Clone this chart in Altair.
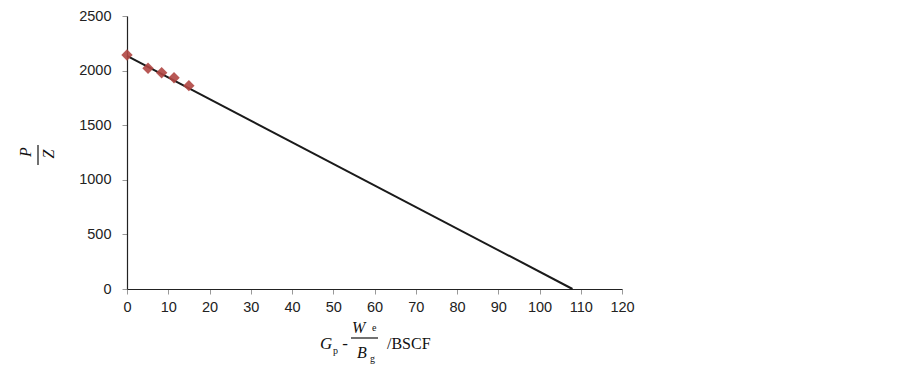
import altair as alt
import pandas as pd

# Data points (x = Gp - We/Bg in BSCF, y = P/Z)
pts_x = [0.0, 5.1, 8.4, 11.4, 15.0]
pts_y = [2143, 2021, 1981, 1935, 1862]

# Fitted straight line endpoints
line_x = [0.0, 108.0]
line_y = [2135, 0]

x_ticks = [0, 10, 20, 30, 40, 50, 60, 70, 80, 90, 100, 110, 120]
y_ticks = [0, 500, 1000, 1500, 2000, 2500]

# Axis-title pieces
xt_text = ["G", "p", "-", "W", "e", "B", "g", "/BSCF"]
yt_text = ["P", "Z"]

W, H = 495, 273

pts = pd.DataFrame({"x": pts_x, "y": pts_y})
ln = pd.DataFrame({"x": line_x, "y": line_y})

xs = alt.Scale(domain=[0, 120], nice=False)
ys = alt.Scale(domain=[0, 2500], nice=False)

xaxis = alt.Axis(values=x_ticks, title=None, format="d", labelFontSize=14.5, labelFont="Liberation Sans",
                 labelColor="#222", tickColor="#999", tickSize=5, domainColor="#222",
                 domainWidth=1.2, labelPadding=6, grid=False, labelFlush=False)
yaxis = alt.Axis(values=y_ticks, title=None, format="d", labelFontSize=14.5, labelFont="Liberation Sans",
                 labelColor="#222", tickColor="#999", tickSize=5, domainColor="#222",
                 domainWidth=1.2, labelPadding=11, grid=False, labelFlush=False)

line = alt.Chart(ln).mark_line(color="#1a1a1a", strokeWidth=2).encode(
    x=alt.X("x:Q", scale=xs, axis=xaxis),
    y=alt.Y("y:Q", scale=ys, axis=yaxis),
)

points = alt.Chart(pts).mark_point(shape="diamond", filled=True, size=130,
                                   color="#b04643", opacity=0.9).encode(
    x=alt.X("x:Q", scale=xs),
    y=alt.Y("y:Q", scale=ys),
)


def txt(t, x, y, size, style="normal", angle=0, align="left", baseline="alphabetic"):
    return alt.Chart(alt.Data(values=[{"t": t}])).mark_text(
        font="Liberation Serif", fontSize=size, fontStyle=style, angle=angle,
        align=align, baseline=baseline, color="#111"
    ).encode(text="t:N", x=alt.value(x), y=alt.value(y))


def rule(x1, x2, y1, y2):
    return alt.Chart(alt.Data(values=[{"a": 1}])).mark_rule(color="#111", strokeWidth=1.2).encode(
        x=alt.value(x1), x2=alt.value(x2), y=alt.value(y1), y2=alt.value(y2))


title_layers = [
    txt(xt_text[0], 193, 333, 17, "italic"),
    txt(xt_text[1], 206, 338, 10),
    txt(xt_text[2], 218, 333, 17, align="center"),
    txt(xt_text[3], 225, 317, 16, "italic"),
    txt(xt_text[4], 245, 315, 10),
    rule(224, 251, 322, 322),
    txt(xt_text[5], 230, 342, 16, "italic"),
    txt(xt_text[6], 243, 346, 10),
    txt(xt_text[7], 260, 333, 16),
    txt(yt_text[0], -101, 136, 16, "italic", angle=270, align="center", baseline="middle"),
    rule(-89, -89, 129, 149),
    txt(yt_text[1], -78, 138, 16, "italic", angle=270, align="center", baseline="middle"),
]

chart = alt.layer(line, points, *title_layers).properties(
    width=W, height=H,
    autosize=alt.AutoSizeParams(type="none"),
    padding={"left": 119, "top": 8, "right": 20, "bottom": 82},
).configure(background="white").configure_view(stroke=None, strokeWidth=0)

chart.save("out.html", embed_options={"renderer": "svg", "actions": False})
